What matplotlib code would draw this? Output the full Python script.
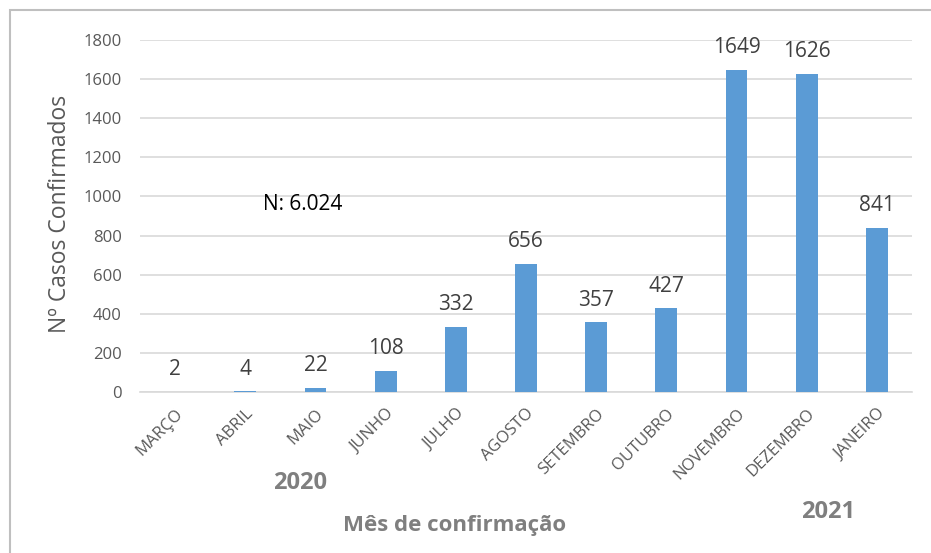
import numpy as np
import matplotlib.pyplot as plt
from matplotlib.patches import Rectangle

# Dados
meses = ['MARÇO', 'ABRIL', 'MAIO', 'JUNHO', 'JULHO', 'AGOSTO', 'SETEMBRO',
         'OUTUBRO', 'NOVEMBRO', 'DEZEMBRO', 'JANEIRO']
casos = [2, 4, 22, 108, 332, 656, 357, 427, 1649, 1626, 841]
yticks = [0, 200, 400, 600, 800, 1000, 1200, 1400, 1600, 1800]

plt.rcParams['font.family'] = ['Open Sans', 'DejaVu Sans']

fig = plt.figure(figsize=(9.31, 5.53), dpi=100)
ax = fig.add_axes([140/931, 1 - 392/553, 772/931, 352/553])

x = np.arange(len(meses))
ax.bar(x, casos, width=0.31, color='#5B9BD5', zorder=3)
for xi, v in zip(x, casos):
    ax.annotate(str(v), (xi, v), xytext=(0, 12), textcoords='offset points',
                ha='center', va='baseline', fontsize=15, color='#404040')

ax.set_xlim(-0.5, len(meses) - 0.5)
ax.set_ylim(0, 1800)
ax.set_yticks(yticks)
ax.set_yticklabels([str(t) for t in yticks], fontsize=12, color='#595959')
ax.set_xticks(x)
ax.set_xticklabels(meses, rotation=45, ha='right', rotation_mode='anchor',
                   fontsize=12, color='#595959')
ax.tick_params(axis='both', length=0)
ax.tick_params(axis='y', pad=13)
ax.tick_params(axis='x', pad=10)
ax.grid(axis='y', color='#D9D9D9', linewidth=1.2, zorder=0)
for s in ['top', 'right', 'left']:
    ax.spines[s].set_visible(False)
ax.spines['bottom'].set_color('#D9D9D9')
ax.spines['bottom'].set_linewidth(1.2)

fig.text(60/931, 1 - 214/553, 'Nº Casos Confirmados', rotation=90, ha='center', va='center',
         fontsize=16.5, color='#595959')
fig.text(455/931, 1 - 525/553, 'Mês de confirmação', ha='center', va='center',
         fontsize=16, fontweight='bold', color='#7F7F7F')
fig.text(300/931, 1 - 483/553, '2020', ha='center', va='center',
         fontsize=17, fontweight='bold', color='#7F7F7F')
fig.text(828/931, 1 - 512/553, '2021', ha='center', va='center',
         fontsize=17, fontweight='bold', color='#7F7F7F')
fig.text(303/931, 1 - 205/553, 'N: 6.024', ha='center', va='center',
         fontsize=15, color='black')

# moldura
fig.patches.append(Rectangle((10/931, -0.05), 1.0, 1 - 10/553 + 0.05, transform=fig.transFigure,
                             fill=False, edgecolor='#BFBFBF', linewidth=1.5))

fig.savefig('out.png', dpi=100)
